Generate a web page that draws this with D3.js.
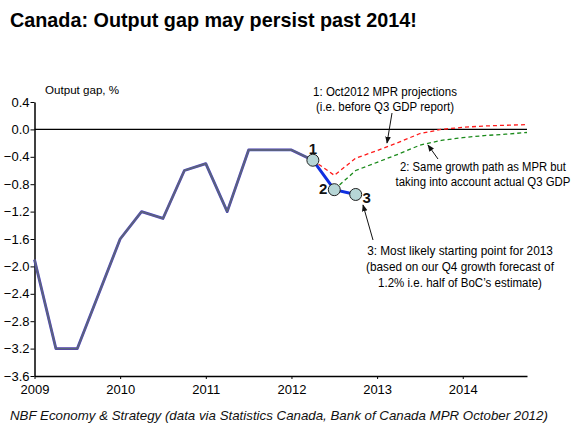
<!DOCTYPE html>
<html>
<head>
<meta charset="utf-8">
<script src="https://cdnjs.cloudflare.com/ajax/libs/d3/7.8.5/d3.min.js"></script>
<style>
  html, body { margin: 0; padding: 0; background: #fff; }
  svg { display: block; }
</style>
</head>
<body>
<script>
// ---------- data ----------
const histQuarters = [2009, 2009.25, 2009.5, 2009.75, 2010, 2010.25, 2010.5, 2010.75, 2011, 2011.25, 2011.5, 2011.75, 2012, 2012.25];
const histValues   = [-1.9, -3.2, -3.2, -2.4, -1.6, -1.2, -1.3, -0.6, -0.5, -1.2, -0.3, -0.3, -0.3, -0.45];

const projQuarters = [2012.25, 2012.5, 2012.75, 2013, 2013.25, 2013.5, 2013.75, 2014, 2014.25, 2014.5, 2014.75];
const mprValues    = [-0.45, -0.67, -0.42, -0.31, -0.19, -0.06, 0.0, 0.03, 0.05, 0.06, 0.07];

const adjQuarters  = [2012.5, 2012.75, 2013, 2013.25, 2013.5, 2013.75, 2014, 2014.25, 2014.5, 2014.75];
const adjValues    = [-0.88, -0.6, -0.48, -0.36, -0.23, -0.16, -0.12, -0.09, -0.07, -0.045];

const nbfQuarters  = [2012.25, 2012.5, 2012.75];
const nbfValues    = [-0.45, -0.88, -0.95];
const nbfLabels    = ["1", "2", "3"];

const yTicks = [0.4, 0.0, -0.4, -0.8, -1.2, -1.6, -2.0, -2.4, -2.8, -3.2, -3.6];
const xTicks = [2009, 2010, 2011, 2012, 2013, 2014];

const title = "Canada: Output gap may persist past 2014!";
const yLabel = "Output gap, %";
const source = "NBF Economy & Strategy (data via Statistics Canada, Bank of Canada MPR October 2012)";
const note1 = ["1: Oct2012 MPR projections", "(i.e. before Q3 GDP report)"];
const note2 = ["2: Same growth path as MPR but", "taking into account actual Q3 GDP"];
const note3 = ["3: Most likely starting point for 2013", "(based on our Q4 growth forecast of", "1.2% i.e. half of BoC\u2019s estimate)"];

// ---------- layout ----------
const W = 581, H = 430;
const x = d3.scaleLinear().domain([2009, 2014.75]).range([34.5, 527]);
const y = d3.scaleLinear().domain([-3.6, 0.4]).range([376, 102]);

const svg = d3.select("body").append("svg").attr("width", W).attr("height", H);
const FONT = "Liberation Sans, Arial, sans-serif";

svg.append("text").attr("x", 10).attr("y", 27)
  .attr("font-family", FONT).attr("font-weight", "bold").attr("font-size", 19.8)
  .attr("fill", "#000").text(title);

svg.append("text").attr("x", 45).attr("y", 94)
  .attr("font-family", FONT).attr("font-size", 11.6).attr("fill", "#000").text(yLabel);

// axes
const yAxis = d3.axisLeft(y).tickValues(yTicks).tickFormat(d3.format(".1f")).tickSize(4).tickSizeOuter(0);
const gy = svg.append("g").attr("transform", `translate(${x(2009)},0)`).call(yAxis);
gy.selectAll("text").attr("font-family", FONT).attr("font-size", 13).attr("fill", "#000").attr("x", -5);
gy.select(".domain").attr("stroke", "#000").attr("stroke-width", 1.5);
gy.selectAll(".tick line").attr("stroke", "#000");

const xAxis = d3.axisBottom(x).tickValues(xTicks).tickFormat(d3.format("d")).tickSize(3).tickSizeOuter(0);
const gx = svg.append("g").attr("transform", `translate(0,${y(-3.6)})`).call(xAxis);
gx.selectAll("text").attr("font-family", FONT).attr("font-size", 13).attr("fill", "#000").attr("dy", "0.9em");
gx.select(".domain").attr("stroke", "#000").attr("stroke-width", 1.5);
gx.selectAll(".tick line").attr("stroke", "#000");

// zero line
svg.append("line").attr("x1", x(2009)).attr("x2", x(2014.75)).attr("y1", y(0)).attr("y2", y(0))
  .attr("stroke", "#000").attr("stroke-width", 1.2);

const line = d3.line().x(d => x(d[0])).y(d => y(d[1]));
const hist = histQuarters.map((q, i) => [q, histValues[i]]);

// history (three overlapping series)
svg.append("path").attr("d", line(hist)).attr("fill", "none").attr("stroke", "#3a48c8").attr("stroke-width", 2.8).attr("stroke-linejoin", "round");
svg.append("path").attr("d", line(hist)).attr("fill", "none").attr("stroke", "#d04040").attr("stroke-width", 2.2).attr("stroke-opacity", 0.3).attr("stroke-linejoin", "round");
svg.append("path").attr("d", line(hist)).attr("fill", "none").attr("stroke", "#40a040").attr("stroke-width", 1.4).attr("stroke-opacity", 0.4).attr("stroke-linejoin", "round");

// projections
svg.append("path").attr("d", line(projQuarters.map((q, i) => [q, mprValues[i]])))
  .attr("fill", "none").attr("stroke", "#ff1a1a").attr("stroke-width", 1.3).attr("stroke-dasharray", "4,3");
svg.append("path").attr("d", line(adjQuarters.map((q, i) => [q, adjValues[i]])))
  .attr("fill", "none").attr("stroke", "#1a8a1a").attr("stroke-width", 1.3).attr("stroke-dasharray", "4,3");

// NBF path
const nbf = nbfQuarters.map((q, i) => [q, nbfValues[i]]);
svg.append("path").attr("d", line(nbf)).attr("fill", "none").attr("stroke", "#1030e0").attr("stroke-width", 3);
svg.selectAll("circle.nbf").data(nbf).enter().append("circle")
  .attr("cx", d => x(d[0])).attr("cy", d => y(d[1])).attr("r", 6)
  .attr("fill", "#b7d6d6").attr("stroke", "#222").attr("stroke-width", 1);

const lblOff = [[0, -12], [-11, -1], [11, 3]];
svg.selectAll("text.nbfl").data(nbf).enter().append("text")
  .attr("x", (d, i) => x(d[0]) + lblOff[i][0]).attr("y", (d, i) => y(d[1]) + lblOff[i][1])
  .attr("text-anchor", "middle").attr("dominant-baseline", "central")
  .attr("font-family", FONT).attr("font-weight", "bold").attr("font-size", 15).attr("fill", "#111")
  .text((d, i) => nbfLabels[i]);

// annotations (narrow look via horizontal scaling)
function note(lines, widths, cx, cy, lh) {
  lines.forEach((s, i) => {
    const g = svg.append("g");
    const t = g.append("text").attr("font-family", FONT).attr("font-size", 13.5).attr("fill", "#000")
      .attr("x", 0).attr("y", 0).attr("text-anchor", "middle").attr("dominant-baseline", "central")
      .text(s);
    const natural = t.node().getComputedTextLength();
    const sx = widths[i] / natural;
    g.attr("transform", `translate(${cx},${cy + i * lh}) scale(${sx},1)`);
  });
}
note(note1, [144, 138], 385, 92, 15);
note(note2, [166, 175], 483, 167, 15);
note(note3, [186, 188, 164], 460, 251, 16);

// arrows
const defs = svg.append("defs");
defs.append("marker").attr("id", "ah").attr("viewBox", "0 0 10 10").attr("refX", 9).attr("refY", 5)
  .attr("markerWidth", 7).attr("markerHeight", 7).attr("orient", "auto-start-reverse")
  .append("path").attr("d", "M0,1 L10,5 L0,9 z").attr("fill", "#111");
function arrow(x1, y1, x2, y2) {
  svg.append("line").attr("x1", x1).attr("y1", y1).attr("x2", x2).attr("y2", y2)
    .attr("stroke", "#111").attr("stroke-width", 1).attr("marker-end", "url(#ah)");
}
arrow(392, 113, 387, 143);
arrow(438, 159, 428, 145);
arrow(373, 240, 363, 205);

svg.append("text").attr("x", 10).attr("y", 420)
  .attr("font-family", FONT).attr("font-style", "italic").attr("font-size", 13.3).attr("fill", "#111").text(source);
</script>
</body>
</html>
